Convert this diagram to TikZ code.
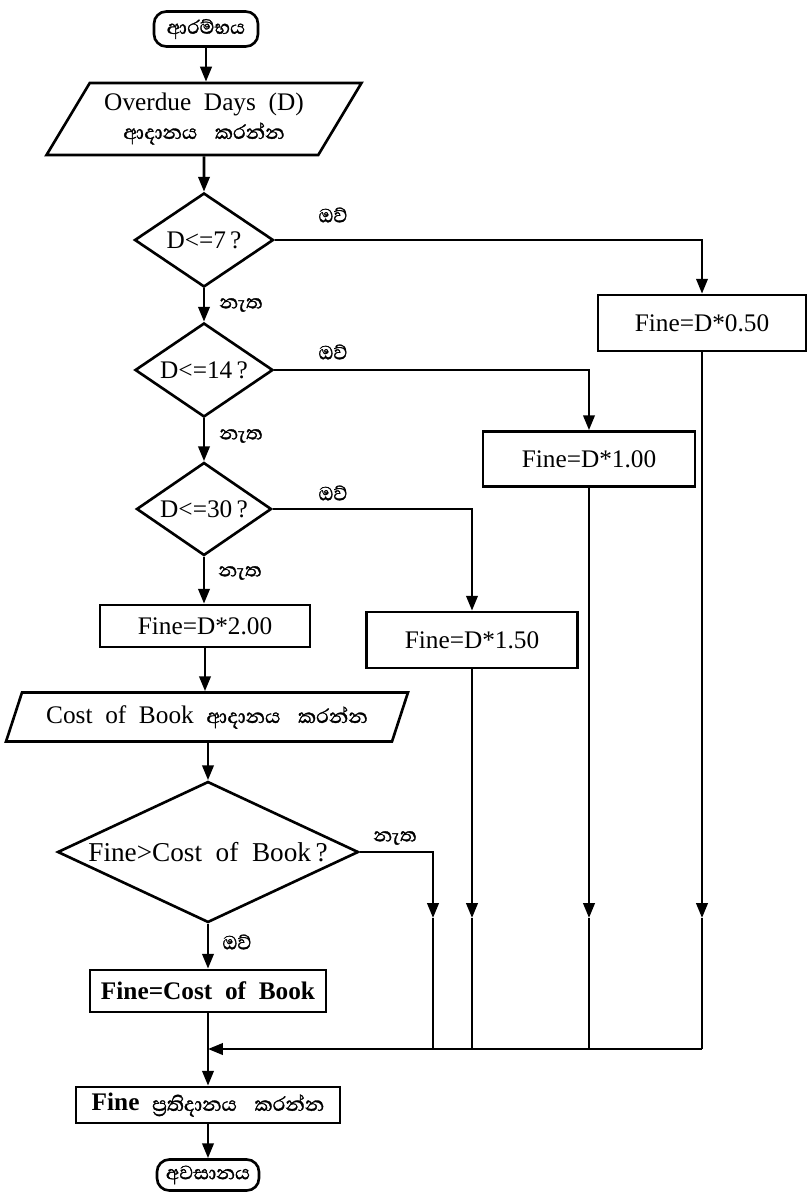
\documentclass[tikz,border=0pt]{standalone}
\usepackage{fontspec}
\setmainfont{Liberation Serif}
\newfontfamily\sinhala[Script=Sinhala,FakeBold=1.2]{Abhaya Libre}
\usetikzlibrary{shapes.geometric,arrows.meta}

\begin{document}
\begin{tikzpicture}[x=0.02cm,y=-0.02cm,>={Triangle[length=8.5pt,width=6.5pt]},line width=1.5pt,
	font=\fontsize{14.4}{17}\selectfont,
	term/.style={draw,rounded corners=7pt,inner sep=0pt,font=\fontsize{14}{16}\selectfont\sinhala},
	io/.style={draw,trapezium,trapezium left angle=50,trapezium right angle=130,trapezium stretches body,inner sep=0pt,align=center},
	test/.style={draw,diamond,aspect=1.48,inner sep=0pt},
	proc/.style={draw,rectangle,inner sep=0pt},
	lbl/.style={inner sep=0pt,font=\fontsize{14}{16}\selectfont\sinhala}]
	\useasboundingbox (0,0) rectangle (807,1193);

	\node[term,minimum width=2.08cm,minimum height=0.70cm] (start) at (206,29) {ආරම්භය};
	\node[io,minimum width=6.3cm,minimum height=1.44cm] (in1) at (204,119) {Overdue\ \ Days\ \ (D)\\[-1pt] {\sinhala ආදානය\hspace{0.7em}කරන්න}};
	\node[test,minimum width=2.78cm,minimum height=1.88cm] (d1) at (204,240) {D<=7\,?};
	\node[test,minimum width=2.76cm,minimum height=1.88cm] (d2) at (204,370) {D<=14\,?};
	\node[test,minimum width=2.70cm,minimum height=1.86cm] (d3) at (204,509) {D<=30\,?};
	\node[proc,minimum width=4.2cm,minimum height=0.84cm] (f2) at (205,626) {Fine=D*2.00};
	\node[io,trapezium left angle=56,trapezium right angle=124,minimum width=8.04cm,minimum height=0.98cm] (in2) at (207,717)
		{Cost\ \ of\ \ Book\ \ {\sinhala ආදානය\hspace{0.7em}කරන්න}};
	\node[test,aspect=2.13,minimum width=6.02cm,minimum height=2.82cm,font=\fontsize{15.5}{18}\selectfont] (d4) at (208,852) {Fine>Cost\ \ of\ \ Book\,?};
	\node[proc,minimum width=4.72cm,minimum height=0.84cm,font=\fontsize{14.4}{17}\selectfont\bfseries] (fcost) at (208,991) {Fine=Cost\ \ of\ \ Book};
	\node[proc,minimum width=5.28cm,minimum height=0.72cm] (out) at (208,1105) {\textbf{Fine}\ \ {\sinhala ප්^^^^200dරතිදානය\hspace{0.7em}කරන්න}};
	\node[term,minimum width=2.04cm,minimum height=0.62cm] (end) at (208,1175) {අවසානය};

	\node[proc,minimum width=4.16cm,minimum height=1.12cm] (f050) at (702,323) {Fine=D*0.50};
	\node[proc,minimum width=4.24cm,minimum height=1.10cm] (f100) at (589,459) {Fine=D*1.00};
	\node[proc,minimum width=4.22cm,minimum height=1.12cm] (f150) at (472,640) {Fine=D*1.50};

	\node[lbl] (yes1) at (333,215) {ඔව්};
	\node[lbl] (yes2) at (333,352) {ඔව්};
	\node[lbl] (yes3) at (333,493) {ඔව්};
	\node[lbl] (yes4) at (237,942) {ඔව්};
	\node[lbl] (no1) at (241,305) {නැත};
	\node[lbl] (no2) at (241,436) {නැත};
	\node[lbl] (no3) at (240,573) {නැත};
	\node[lbl] (no4) at (395,838) {නැත};

	\coordinate (m0) at (433,918);
	\coordinate (m1) at (472,918);
	\coordinate (m2) at (589,918);
	\coordinate (m3) at (702,918);
	\coordinate (j0) at (433,1049);
	\coordinate (j1) at (472,1049);
	\coordinate (j2) at (589,1049);
	\coordinate (j3) at (702,1049);
	\coordinate (jm) at (208,1049);

	\draw[->] (start) -- (start |- in1.north);	%start--input
	\draw[->] (in1) -- (d1);		%input--test7
	\draw[->] (d1) -- (d2);			%test7--test14
	\draw[->] (d2) -- (d3);			%test14--test30
	\draw[->] (d3.south) -- (d3.south |- f2.north);	%test30--fine2
	\draw[->] (f2.south) -- (f2.south |- in2.north);	%fine2--cost
	\draw[->] (in2.south -| d4) -- (d4);	%cost--testcost
	\draw[->] (d4) -- (fcost);		%testcost--finecost
	\draw[->] (fcost) -- (out);		%finecost--output
	\draw[->] (out) -- (end);		%output--end
	%
	\draw[->] (d1.east) -| (f050.north);	%test7--fine050
	\draw[->] (d2.east) -| (f100.north);	%test14--fine100
	\draw[->] (d3.east) -| (f150.north);	%test30--fine150
	%
	\draw[->] (d4.east) -| (m0);	\draw (m0) -- (j0);
	\draw[->] (f150.south) -- (m1);	\draw (m1) -- (j1);
	\draw[->] (f100.south) -- (m2);	\draw (m2) -- (j2);
	\draw[->] (f050.south) -- (m3);	\draw (m3) -- (j3);
	\draw[->] (j3) -- (jm);			%join
\end{tikzpicture}
\end{document}
